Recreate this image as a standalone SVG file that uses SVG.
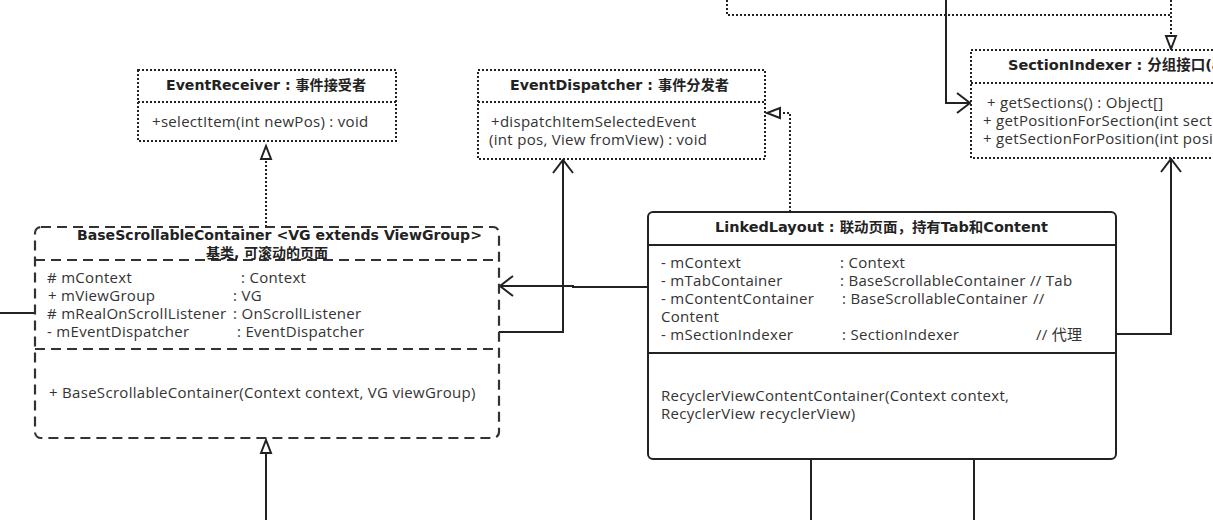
<svg xmlns="http://www.w3.org/2000/svg" width="1213" height="520" viewBox="0 0 1213 520">
<defs>
<style>
.bg{fill:#fff}
.t{font-family:"DejaVu Sans","Noto Sans CJK SC",sans-serif;font-weight:bold;font-size:14px;fill:#222}
.b{font-family:"Open Sans","Noto Sans CJK SC",sans-serif;font-size:15px;letter-spacing:0.3px;fill:#333}
.dotbox{fill:#fff;stroke:#222;stroke-width:2;stroke-dasharray:2 2}
.dashbox{fill:#fff;stroke:#333;stroke-width:2.2;stroke-dasharray:10 6}
.solidbox{fill:#fff;stroke:#222;stroke-width:2}
.dotl{fill:none;stroke:#222;stroke-width:2;stroke-dasharray:2 2}
.dashl{fill:none;stroke:#333;stroke-width:2.2;stroke-dasharray:10 6}
.sol{fill:none;stroke:#222;stroke-width:2}
.ln{fill:none;stroke:#222;stroke-width:2}
</style>
<marker id="open" markerUnits="userSpaceOnUse" markerWidth="18" markerHeight="24" viewBox="0 0 18 24" refX="15" refY="12" orient="auto">
<path d="M2,2 L15,12 L2,22" fill="none" stroke="#222" stroke-width="2"/>
</marker>
<marker id="tri" markerUnits="userSpaceOnUse" markerWidth="18" markerHeight="14" viewBox="0 0 18 14" refX="15" refY="7" orient="auto">
<path d="M2,2 L15,7 L2,12 Z" fill="#fff" stroke="#222" stroke-width="2"/>
</marker>
</defs>
<rect class="bg" x="0" y="0" width="1213" height="520"/>

<g id="connectors">
<path class="dotl" d="M727,0 V15 H1171"/>
<path class="dotl" d="M1171,0 V49" marker-end="url(#tri)"/>
<path class="sol" d="M946,0 V103 H970" marker-end="url(#open)"/>
<path class="dotl" d="M266,227 V146" marker-end="url(#tri)"/>
<path class="dotl" d="M790,212 V113 H767" marker-end="url(#tri)"/>
<path class="sol" d="M499,332 H563 V160" marker-end="url(#open)"/>
<path class="sol" d="M648,287 H573 V286 H500" marker-end="url(#open)"/>
<path class="sol" d="M1116,334 H1171 V159" marker-end="url(#open)"/>
<path class="sol" d="M0,313 H35"/>
<path class="sol" d="M266,520 V440" marker-end="url(#tri)"/>
<path class="sol" d="M811,459 V520"/>
<path class="sol" d="M974,459 V520"/>
</g>

<g id="EventReceiver">
<rect class="dotbox" x="138" y="70" width="258" height="71"/>
<line class="dotl" x1="138" y1="102" x2="396" y2="102"/>
<text class="t" x="166" y="90" textLength="200" lengthAdjust="spacingAndGlyphs">EventReceiver : 事件接受者</text>
<text class="b" x="152" y="127">+selectItem(int newPos) : void</text>
</g>

<g id="EventDispatcher">
<rect class="dotbox" x="478" y="70" width="287" height="89"/>
<line class="dotl" x1="478" y1="102" x2="765" y2="102"/>
<text class="t" x="510" y="90" textLength="219" lengthAdjust="spacingAndGlyphs">EventDispatcher : 事件分发者</text>
<text class="b" x="491" y="127">+dispatchItemSelectedEvent</text>
<text class="b" x="489" y="145">(int pos, View fromView) : void</text>
</g>

<g id="SectionIndexer">
<rect class="dotbox" x="971" y="50" width="260" height="108"/>
<line class="dotl" x1="971" y1="83" x2="1213" y2="83"/>
<text class="t" x="1008" y="70" style="font-size:14.5px">SectionIndexer : 分组接口(adapter)</text>
<text class="b" x="987" y="108">+ getSections() : Object[]</text>
<text class="b" x="983" y="126">+ getPositionForSection(int section)</text>
<text class="b" x="983" y="144">+ getSectionForPosition(int position)</text>
</g>

<g id="BaseScrollableContainer">
<rect class="dashbox" x="35" y="227" width="464" height="211" rx="6"/>
<line class="dashl" x1="35" y1="260" x2="499" y2="260"/>
<line class="dashl" x1="35" y1="349" x2="499" y2="349"/>
<text class="t" x="77" y="240" textLength="405" lengthAdjust="spacingAndGlyphs">BaseScrollableContainer &lt;VG extends ViewGroup&gt;</text>
<text class="t" x="267" y="258" text-anchor="middle">基类, 可滚动的页面</text>
<text class="b" x="47" y="283"># mContext</text>
<text class="b" x="241" y="283">: Context</text>
<text class="b" x="48" y="301">+ mViewGroup</text>
<text class="b" x="233" y="301">: VG</text>
<text class="b" x="47" y="319"># mRealOnScrollListener</text>
<text class="b" x="233" y="319">: OnScrollListener</text>
<text class="b" x="47" y="337">- mEventDispatcher</text>
<text class="b" x="237" y="337">: EventDispatcher</text>
<text class="b" x="49" y="398">+ BaseScrollableContainer(Context context, VG viewGroup)</text>
</g>

<g id="LinkedLayout">
<rect class="solidbox" x="648" y="212" width="468" height="247" rx="5"/>
<line class="ln" x1="648" y1="245" x2="1116" y2="245"/>
<line class="ln" x1="648" y1="353" x2="1116" y2="353"/>
<text class="t" x="715" y="232" textLength="333" lengthAdjust="spacingAndGlyphs">LinkedLayout : 联动页面，持有Tab和Content</text>
<text class="b" x="661" y="268">- mContext</text>
<text class="b" x="840" y="268">: Context</text>
<text class="b" x="661" y="286">- mTabContainer</text>
<text class="b" x="840" y="286">: BaseScrollableContainer</text>
<text class="b" x="1030" y="286">// Tab</text>
<text class="b" x="661" y="304">- mContentContainer</text>
<text class="b" x="842" y="304">: BaseScrollableContainer</text>
<text class="b" x="1033" y="304">//</text>
<text class="b" x="661" y="322">Content</text>
<text class="b" x="661" y="340">- mSectionIndexer</text>
<text class="b" x="842" y="340">: SectionIndexer</text>
<text class="b" x="1036" y="340">// 代理</text>
<text class="b" x="661" y="401">RecyclerViewContentContainer(Context context,</text>
<text class="b" x="661" y="419">RecyclerView recyclerView)</text>
</g>
</svg>
